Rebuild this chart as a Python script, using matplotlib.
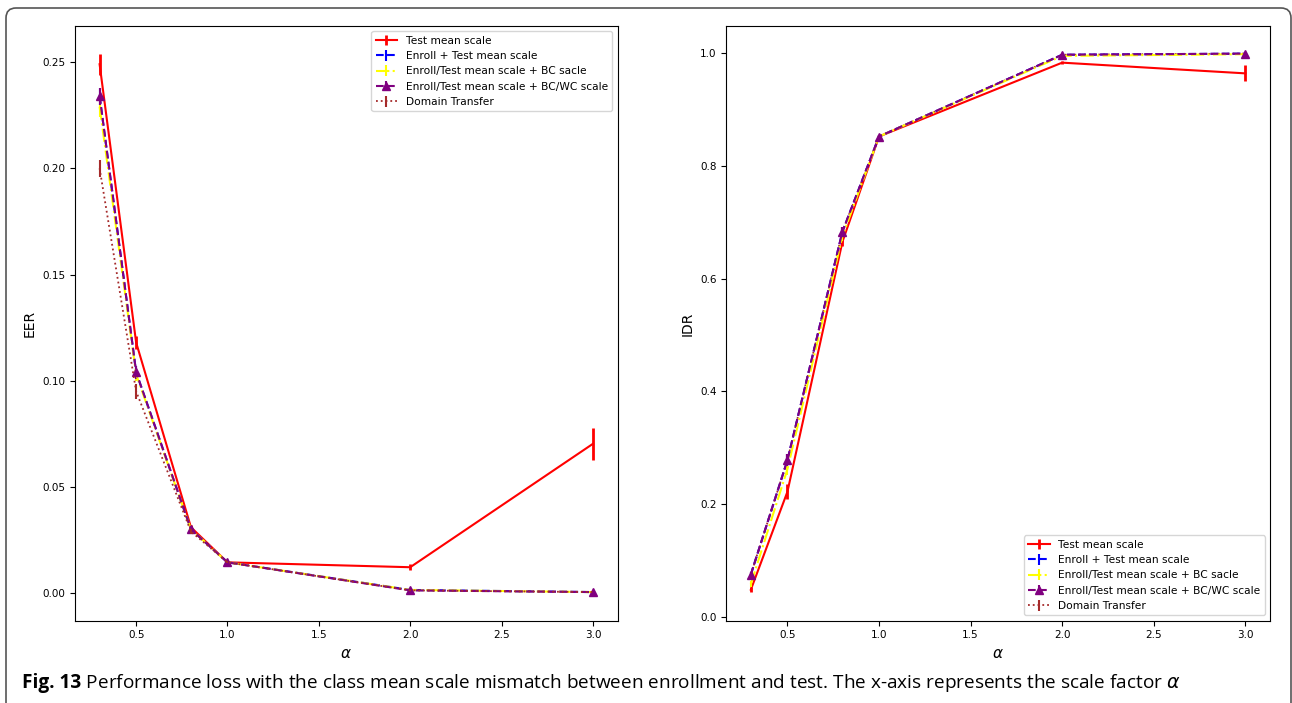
import matplotlib
matplotlib.use("Agg")
import matplotlib.pyplot as plt
from matplotlib.patches import FancyBboxPatch

alpha = [0.3, 0.5, 0.8, 1.0, 2.0, 3.0]

labels = ["Test mean scale", "Enroll + Test mean scale",
          "Enroll/Test mean scale + BC sacle",
          "Enroll/Test mean scale + BC/WC scale", "Domain Transfer"]

# EER (left panel)
eer_test = [0.249, 0.118, 0.031, 0.0145, 0.0122, 0.0703]
eer_test_err = [0.005, 0.003, 0.001, 0.0005, 0.0015, 0.0075]
eer_enroll = [0.234, 0.104, 0.030, 0.0145, 0.0015, 0.0005]
eer_enroll_err = [0.004, 0.003, 0.001, 0.0005, 0.0003, 0.0002]
eer_bc = [0.229, 0.103, 0.030, 0.0145, 0.0015, 0.0005]
eer_bc_err = [0.005, 0.003, 0.001, 0.0005, 0.0003, 0.0002]
eer_bcwc = [0.234, 0.104, 0.030, 0.0145, 0.0013, 0.0005]
eer_bcwc_err = [0.004, 0.003, 0.001, 0.0005, 0.0003, 0.0002]
eer_dt = [0.200, 0.095, 0.029, 0.0145, 0.0013, 0.0005]
eer_dt_err = [0.004, 0.0035, 0.001, 0.0005, 0.0003, 0.0002]

# IDR (right panel)
idr_test = [0.048, 0.222, 0.665, 0.852, 0.983, 0.964]
idr_test_err = [0.004, 0.013, 0.008, 0.003, 0.003, 0.014]
idr_enroll = [0.075, 0.278, 0.683, 0.852, 0.997, 0.999]
idr_enroll_err = [0.004, 0.010, 0.008, 0.003, 0.002, 0.001]
idr_bc = [0.058, 0.262, 0.675, 0.852, 0.995, 0.998]
idr_bc_err = [0.005, 0.010, 0.008, 0.003, 0.002, 0.001]
idr_bcwc = [0.075, 0.278, 0.683, 0.852, 0.997, 0.999]
idr_bcwc_err = [0.004, 0.010, 0.008, 0.003, 0.002, 0.001]
idr_dt = [0.075, 0.278, 0.683, 0.852, 0.997, 0.999]
idr_dt_err = [0.004, 0.010, 0.008, 0.003, 0.002, 0.001]

styles = [
    dict(color="red", ls="-", lw=1.5, elinewidth=2),
    dict(color="blue", ls="--", lw=1.5, elinewidth=1.5),
    dict(color="yellow", ls="-.", lw=1.5, elinewidth=1.5),
    dict(color="purple", ls="--", lw=1.5, elinewidth=1.5, marker="^", ms=6),
    dict(color="brown", ls=":", lw=1.3, elinewidth=1.5),
]

fig = plt.figure(figsize=(12.92, 7.03), dpi=100)
ax1 = fig.add_axes([0.058, 0.117, 0.420, 0.846])
ax2 = fig.add_axes([0.562, 0.117, 0.421, 0.846])


def draw(ax, series, dt_z):
    for i, ((y, e), lab, st) in enumerate(zip(series, labels, styles)):
        z = dt_z if i == 4 else 2 + i * 0.1
        ax.errorbar(alpha, y, yerr=e, label=lab, capsize=0, zorder=z, **st)
    ax.tick_params(labelsize=7.5)


draw(ax1, [(eer_test, eer_test_err), (eer_enroll, eer_enroll_err), (eer_bc, eer_bc_err),
           (eer_bcwc, eer_bcwc_err), (eer_dt, eer_dt_err)], 2.5)
draw(ax2, [(idr_test, idr_test_err), (idr_enroll, idr_enroll_err), (idr_bc, idr_bc_err),
           (idr_bcwc, idr_bcwc_err), (idr_dt, idr_dt_err)], 1.5)

ax1.set_ylim(-0.013, 0.267)
ax1.set_yticks([0.0, 0.05, 0.10, 0.15, 0.20, 0.25])
ax1.set_ylabel("EER", fontsize=10)
ax1.set_xlabel(r"$\alpha$", fontsize=11)
ax1.legend(loc="upper right", fontsize=7.7)

ax2.set_ylim(-0.007, 1.048)
ax2.set_ylabel("IDR", fontsize=10)
ax2.set_xlabel(r"$\alpha$", fontsize=11)
ax2.legend(loc="lower right", fontsize=7.7)

# outer frame of the figure panel
frame = FancyBboxPatch((0.06, -0.2), 12.85, 7.15, boxstyle="round,pad=0,rounding_size=0.1",
                       transform=fig.dpi_scale_trans, fill=False, ec="#555555", lw=1.2)
fig.patches.append(frame)

# caption: bold figure number followed by plain text on the same baseline
cap_font = ["Open Sans", "DejaVu Sans"]
cap = fig.text(0.017, 0.021, "Fig. 13", fontsize=13.7, fontweight="bold", family=cap_font)
fig.canvas.draw()
bb = cap.get_window_extent().transformed(fig.transFigure.inverted())
fig.text(bb.x1, 0.021, " Performance loss with the class mean scale mismatch between "
         r"enrollment and test. The x-axis represents the scale factor $\alpha$",
         fontsize=13.7, family=cap_font)

fig.savefig("out.png", dpi=100)
